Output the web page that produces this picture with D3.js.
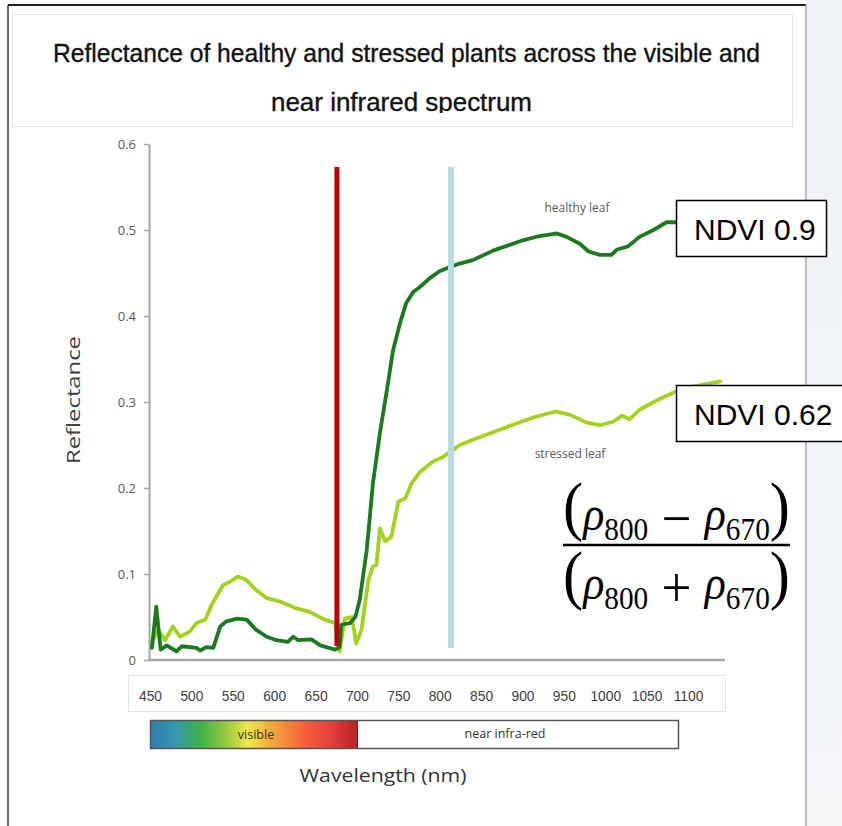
<!DOCTYPE html>
<html>
<head>
<meta charset="utf-8">
<script src="https://cdn.jsdelivr.net/npm/d3@7/dist/d3.min.js"></script>
<style>
  html, body { margin: 0; padding: 0; background: #ffffff; }
  svg { display: block; }
</style>
</head>
<body>
<svg id="chart" width="842" height="826"></svg>
<script>
// ---------------- DATA ----------------
const titleLines = ["Reflectance of healthy and stressed plants across the visible and", "near infrared spectrum"];

const healthyWavelength = [459, 464, 469, 476, 487, 493, 510, 514, 521, 529, 537, 544, 556, 567, 578, 590, 601, 614, 620, 626, 641, 651, 668, 673, 675, 685, 691, 696, 704, 711, 719, 727, 734, 742, 749, 757, 765, 776, 787, 799, 810, 825, 848, 882, 901, 921, 932, 947, 957, 970, 983, 989, 1002, 1015, 1031, 1046, 1055, 1073, 1095];
const healthyReflectance = [0.014, 0.062, 0.012, 0.017, 0.010, 0.016, 0.014, 0.011, 0.015, 0.014, 0.039, 0.045, 0.048, 0.047, 0.035, 0.027, 0.023, 0.021, 0.027, 0.023, 0.024, 0.017, 0.012, 0.015, 0.041, 0.043, 0.050, 0.070, 0.128, 0.205, 0.264, 0.314, 0.360, 0.392, 0.415, 0.428, 0.434, 0.444, 0.452, 0.457, 0.461, 0.465, 0.476, 0.488, 0.493, 0.496, 0.492, 0.484, 0.475, 0.471, 0.471, 0.477, 0.481, 0.492, 0.500, 0.509, 0.509, 0.512, 0.515];

const stressedWavelength = [459, 466, 474, 483, 491, 502, 510, 520, 527, 540, 548, 557, 567, 578, 590, 605, 624, 639, 656, 668, 673, 679, 687, 692, 698, 706, 711, 715, 719, 725, 732, 740, 748, 755, 765, 780, 791, 799, 810, 825, 864, 894, 919, 936, 955, 970, 985, 995, 1004, 1015, 1035, 1054, 1076, 1107];
const stressedReflectance = [0.020, 0.035, 0.023, 0.039, 0.027, 0.033, 0.043, 0.047, 0.064, 0.087, 0.091, 0.097, 0.093, 0.081, 0.072, 0.068, 0.060, 0.056, 0.047, 0.043, 0.010, 0.048, 0.050, 0.019, 0.035, 0.093, 0.109, 0.110, 0.153, 0.138, 0.143, 0.184, 0.188, 0.205, 0.219, 0.231, 0.236, 0.242, 0.250, 0.256, 0.271, 0.282, 0.289, 0.285, 0.276, 0.273, 0.277, 0.284, 0.280, 0.291, 0.302, 0.311, 0.318, 0.324];

const markerWavelengths = [670, 800];            // red band, NIR band
const markerColors = ["#c00000", "#b5dde2"];
const yTicks = [0, 0.1, 0.2, 0.3, 0.4, 0.5, 0.6];
const xTickLabels = [450, 500, 550, 600, 650, 700, 750, 800, 850, 900, 950, 1000, 1050, 1100];
const seriesNames = ["healthy leaf", "stressed leaf"];
const ndviLabels = ["NDVI 0.9", "NDVI 0.62"];
const bandLabels = ["visible", "near infra-red"];

// ---------------- SETUP ----------------
const svg = d3.select("#chart");
const W = 842, H = 826;

const x = d3.scaleLinear().domain([450, 1100]).range([144, 714]);
const y = d3.scaleLinear().domain([0, 0.6]).range([660, 144]);
const xLabel = d3.scaleLinear().domain([450, 1100]).range([150, 688]);

// page background / frame
svg.append("rect").attr("x", 0).attr("y", 0).attr("width", W).attr("height", H).attr("fill", "#ffffff");
const defs = svg.append("defs");
const sideGrad = defs.append("linearGradient").attr("id", "sideGrad").attr("x1", 0).attr("y1", 0).attr("x2", 0).attr("y2", 1);
sideGrad.append("stop").attr("offset", "0%").attr("stop-color", "#eef3f7");
sideGrad.append("stop").attr("offset", "60%").attr("stop-color", "#f1f4f7");
sideGrad.append("stop").attr("offset", "100%").attr("stop-color", "#f4f6f8");
svg.append("rect").attr("x", 807).attr("y", 0).attr("width", W - 807).attr("height", H).attr("fill", "url(#sideGrad)");
svg.append("line").attr("x1", 8).attr("x2", 806).attr("y1", 5).attr("y2", 5).attr("stroke", "#222").attr("stroke-width", 2);
svg.append("line").attr("x1", 8).attr("x2", 8).attr("y1", 5).attr("y2", H).attr("stroke", "#333").attr("stroke-width", 1.5);
svg.append("line").attr("x1", 806).attr("x2", 806).attr("y1", 5).attr("y2", H).attr("stroke", "#a8a8a8").attr("stroke-width", 1.5);

// title box
svg.append("rect").attr("x", 12.5).attr("y", 14.5).attr("width", 780).attr("height", 112)
  .attr("fill", "#fff").attr("stroke", "#e2e2e2").attr("stroke-width", 1);
defs.append("clipPath").attr("id", "titleClip").append("rect").attr("x", 12).attr("y", 14).attr("width", 780).attr("height", 99);
const tg = svg.append("g").attr("clip-path", "url(#titleClip)");
const titleFont = "'Liberation Sans', Arial, sans-serif";
tg.append("text").attr("x", 53).attr("y", 62).text(titleLines[0])
  .attr("font-family", titleFont).attr("font-size", 25).attr("fill", "#111")
  .attr("stroke", "#111").attr("stroke-width", 0.35)
  .attr("textLength", 707).attr("lengthAdjust", "spacingAndGlyphs");
tg.append("text").attr("x", 271).attr("y", 111).text(titleLines[1])
  .attr("font-family", titleFont).attr("font-size", 25).attr("fill", "#111")
  .attr("stroke", "#111").attr("stroke-width", 0.35)
  .attr("textLength", 261).attr("lengthAdjust", "spacingAndGlyphs");

// ---------------- AXES ----------------
const yAxis = d3.axisLeft(y).tickValues(yTicks).tickSize(5).tickSizeOuter(0).tickPadding(8)
  .tickFormat(d => d === 0 ? "0" : d3.format(".1f")(d));
const gy = svg.append("g").attr("transform", "translate(149,0)").call(yAxis);
gy.select(".domain").attr("stroke", "#a6a6a6").attr("stroke-width", 2);
gy.selectAll(".tick line").attr("stroke", "#a6a6a6").attr("stroke-width", 1.5);
gy.selectAll(".tick text").attr("font-family", "'Open Sans', sans-serif").attr("font-size", 13).attr("fill", "#595959");

// bottom axis line
svg.append("line").attr("x1", 148).attr("x2", 725).attr("y1", 660).attr("y2", 660).attr("stroke", "#a6a6a6").attr("stroke-width", 2.5);

// label box with wavelength tick labels
svg.append("rect").attr("x", 128.5).attr("y", 675.5).attr("width", 597).attr("height", 36)
  .attr("fill", "#fff").attr("stroke", "#e4e4e4");
const gx = svg.append("g").attr("transform", "translate(0,690)")
  .call(d3.axisBottom(xLabel).tickValues(xTickLabels).tickSize(0).tickPadding(0).tickFormat(d3.format("d")));
gx.select(".domain").remove();
gx.selectAll(".tick text").attr("font-family", "'Liberation Sans', Arial, sans-serif").attr("font-size", 15).attr("fill", "#404040")
  .attr("transform", "scale(0.92,1)");

// Y label
svg.append("text").attr("transform", "translate(80,400) rotate(-90)").attr("text-anchor", "middle")
  .text("Reflectance").attr("font-family", "'Open Sans', sans-serif").attr("font-size", 18).attr("fill", "#404040")
  .attr("textLength", 128).attr("lengthAdjust", "spacingAndGlyphs");

// spectrum bar
const bg = defs.append("linearGradient").attr("id", "visGrad").attr("x1", 0).attr("x2", 1).attr("y1", 0).attr("y2", 0);
[["0%", "#2f7cb2"], ["12%", "#3898b0"], ["24%", "#3db34a"], ["36%", "#93c83e"], ["47%", "#efe64a"], ["60%", "#f3a23b"], ["74%", "#f4623c"], ["87%", "#e5403a"], ["100%", "#b82228"]]
  .forEach(s => bg.append("stop").attr("offset", s[0]).attr("stop-color", s[1]));
svg.append("rect").attr("x", 151).attr("y", 721).attr("width", 206).attr("height", 27).attr("fill", "url(#visGrad)");
svg.append("rect").attr("x", 357).attr("y", 721).attr("width", 321).attr("height", 27).attr("fill", "#fff");
svg.append("rect").attr("x", 150.5).attr("y", 720.5).attr("width", 528).attr("height", 28)
  .attr("fill", "none").attr("stroke", "#555").attr("stroke-width", 1.5);
svg.append("line").attr("x1", 357.5).attr("x2", 357.5).attr("y1", 721).attr("y2", 748).attr("stroke", "#7a1a1a").attr("stroke-width", 1);
svg.append("text").attr("x", 256).attr("y", 739).attr("text-anchor", "middle").text(bandLabels[0])
  .attr("font-family", "'Open Sans', sans-serif").attr("font-size", 12.5).attr("fill", "#333");
svg.append("text").attr("x", 505).attr("y", 738).attr("text-anchor", "middle").text(bandLabels[1])
  .attr("font-family", "'Open Sans', sans-serif").attr("font-size", 12.5).attr("fill", "#333");

svg.append("text").attr("x", 383).attr("y", 782).attr("text-anchor", "middle").text("Wavelength (nm)")
  .attr("font-family", "'Open Sans', sans-serif").attr("font-size", 19).attr("fill", "#333")
  .attr("textLength", 167).attr("lengthAdjust", "spacingAndGlyphs");

// ---------------- LINES ----------------
const line = d3.line().x(d => x(d[0])).y(d => y(d[1])).curve(d3.curveLinear);
const healthy = healthyWavelength.map((w, i) => [w, healthyReflectance[i]]);
const stressed = stressedWavelength.map((w, i) => [w, stressedReflectance[i]]);

svg.append("path").datum(stressed).attr("d", line).attr("fill", "none")
  .attr("stroke", "#a2d11e").attr("stroke-width", 3.8).attr("stroke-linejoin", "round").attr("stroke-linecap", "round");
svg.append("path").datum(healthy).attr("d", line).attr("fill", "none")
  .attr("stroke", "#1b7a1f").attr("stroke-width", 3.8).attr("stroke-linejoin", "round").attr("stroke-linecap", "round");

// marker lines
svg.selectAll(".marker").data(markerWavelengths).enter().append("rect")
  .attr("x", (d, i) => x(d) - (i === 0 ? 2.5 : 3))
  .attr("y", 167)
  .attr("width", (d, i) => i === 0 ? 5 : 6)
  .attr("height", (d, i) => i === 0 ? 479 : 481)
  .attr("fill", (d, i) => markerColors[i]);

// series labels
svg.append("text").attr("x", 577).attr("y", 212).attr("text-anchor", "middle").text(seriesNames[0])
  .attr("font-family", "'Open Sans', sans-serif").attr("font-size", 12).attr("fill", "#595959");
svg.append("text").attr("x", 570).attr("y", 458).attr("text-anchor", "middle").text(seriesNames[1])
  .attr("font-family", "'Open Sans', sans-serif").attr("font-size", 12).attr("fill", "#595959");

// NDVI boxes
const boxes = [{x: 676, y: 200, w: 150, h: 56, ty: 240}, {x: 676, y: 385, w: 168, h: 56, ty: 425}];
boxes.forEach((b, i) => {
  svg.append("rect").attr("x", b.x + 0.5).attr("y", b.y + 0.5).attr("width", b.w).attr("height", b.h)
    .attr("fill", "#fff").attr("stroke", "#000").attr("stroke-width", 1.5);
  svg.append("text").attr("x", 694).attr("y", b.ty).text(ndviLabels[i])
    .attr("font-family", "'Liberation Sans', Arial, sans-serif").attr("font-size", 30).attr("fill", "#000");
});

// ---------------- FORMULA ----------------
const serif = "'Liberation Serif', 'Times New Roman', serif";
function formulaRow(baseY, op) {
  const t = svg.append("text").attr("x", 0).attr("y", baseY).attr("font-family", serif).attr("fill", "#000");
  t.append("tspan").attr("font-size", 66).text("(");
  t.append("tspan").attr("font-size", 48).attr("font-style", "italic").attr("dy", 2).text("ρ");
  t.append("tspan").attr("font-size", 32).attr("dy", 10).text("800");
  t.append("tspan").attr("font-size", 58).attr("dy", -2).text(" " + op + " ");
  t.append("tspan").attr("font-size", 48).attr("font-style", "italic").attr("dy", -8).text("ρ");
  t.append("tspan").attr("font-size", 32).attr("dy", 10).text("670");
  t.append("tspan").attr("font-size", 66).attr("dy", -12).text(")");
  const bb = t.node().getBBox();
  const x0 = 563, x1 = 790;
  const s = (x1 - x0) / bb.width;
  t.attr("transform", `translate(${x0 - bb.x * s},0) scale(${s},1)`);
}
formulaRow(528, "−");
formulaRow(597, "+");
svg.append("line").attr("x1", 563).attr("x2", 790).attr("y1", 545).attr("y2", 545).attr("stroke", "#000").attr("stroke-width", 2.5);
</script>
</body>
</html>
